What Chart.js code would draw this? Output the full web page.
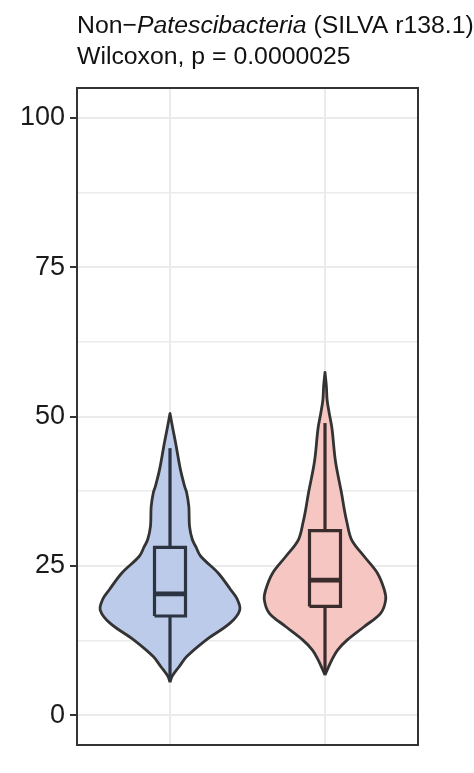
<!DOCTYPE html>
<html>
<head>
<meta charset="utf-8">
<script src="https://cdn.jsdelivr.net/npm/chart.js@4.4.1/dist/chart.umd.min.js"></script>
<style>
  body { margin: 0; background: #fff; }
  #wrap { width: 474px; height: 773px; }
</style>
</head>
<body>
<div id="wrap"><canvas id="myChart"></canvas></div>
<script>
// two groups, no x labels in the figure
const groupPos = [1, 2];

// violin outlines: value (y) and relative density (blue max = 1)
const blueValues = [5.5, 6.5, 8.1, 9.8, 12.6, 15.4, 17.6, 19.5, 21.0, 23.8, 26.6, 28.2, 29.4, 31.6, 34.9, 37.2, 38.3, 41.1, 45.6, 48.0, 50.5];
const blueDensity = [0, 0.03, 0.13, 0.24, 0.52, 0.86, 1, 0.96, 0.87, 0.69, 0.44, 0.37, 0.32, 0.28, 0.27, 0.24, 0.21, 0.15, 0.08, 0.04, 0];
const pinkValues = [6.7, 7.0, 9.3, 10.9, 12.6, 14.8, 17.1, 19.3, 21.0, 23.8, 26.6, 29.4, 32.5, 34.2, 37.0, 42.5, 48.0, 50.6, 52.8, 55.0, 57.4];
const pinkDensity = [0, 0.01, 0.10, 0.18, 0.32, 0.56, 0.80, 0.87, 0.85, 0.75, 0.56, 0.38, 0.31, 0.28, 0.24, 0.15, 0.10, 0.06, 0.03, 0.02, 0];

// boxplot: lower whisker, q1, median, q3, upper whisker
const blueBox = [5.8, 16.6, 20.3, 28.1, 44.7];
const pinkBox = [6.9, 18.2, 22.6, 30.9, 48.9];

const yTicks = [0, 25, 50, 75, 100];
const yGrid = [0, 12.5, 25, 37.5, 50, 62.5, 75, 87.5, 100];

const FONT = '"Liberation Sans", Arial, sans-serif';
const violinHalf = 0.45;
const boxHalf = 0.1;

function violin(center, values, density) {
  const pts = [];
  for (let i = 0; i < values.length; i++) pts.push({ x: center + violinHalf * density[i], y: values[i] });
  for (let i = values.length - 1; i >= 0; i--) pts.push({ x: center - violinHalf * density[i], y: values[i] });
  return pts;
}

function boxSets(center, b, color) {
  const l = center - boxHalf, r = center + boxHalf;
  const base = { borderColor: color, pointRadius: 0, fill: false, tension: 0, order: 0, borderCapStyle: 'butt' };
  return [
    Object.assign({}, base, { data: [{ x: center, y: b[0] }, { x: center, y: b[1] }], borderWidth: 3.2 }),
    Object.assign({}, base, { data: [{ x: center, y: b[3] }, { x: center, y: b[4] }], borderWidth: 3.2 }),
    Object.assign({}, base, { data: [{ x: l, y: b[1] }, { x: r, y: b[1] }, { x: r, y: b[3] }, { x: l, y: b[3] }, { x: l, y: b[1] }], borderWidth: 3.2, borderJoinStyle: 'miter' }),
    Object.assign({}, base, { data: [{ x: l, y: b[2] }, { x: r, y: b[2] }], borderWidth: 4.8 })
  ];
}

const titlePlugin = {
  id: 'ggTitle',
  afterDraw(chart) {
    const ctx = chart.ctx;
    const x0 = chart.chartArea.left;
    ctx.save();
    ctx.fillStyle = '#111';
    ctx.textBaseline = 'alphabetic';
    let x = x0;
    [['Non\u2212', ''], ['Patescibacteria', 'italic '], [' (SILVA r138.1)', '']].forEach(p => {
      ctx.font = p[1] + '24.8px ' + FONT;
      ctx.fillText(p[0], x, 33);
      x += ctx.measureText(p[0]).width;
    });
    ctx.font = '24.8px ' + FONT;
    ctx.fillText('Wilcoxon, p = 0.0000025', x0, 64);
    // panel border
    const a = chart.chartArea;
    ctx.strokeStyle = '#333';
    ctx.lineWidth = 2;
    ctx.strokeRect(a.left, a.top, a.right - a.left, a.bottom - a.top);
    ctx.restore();
  }
};

const ctx = document.getElementById('myChart');
const myChart = new Chart(ctx, {
  type: 'line',
  data: {
    datasets: [
      ...boxSets(groupPos[0], blueBox, '#2c3442'),
      ...boxSets(groupPos[1], pinkBox, '#3a2c2c'),
      {
        data: violin(groupPos[0], blueValues, blueDensity),
        backgroundColor: '#BCCBEA', borderColor: '#333333', borderWidth: 2.8,
        fill: 'shape', tension: 0.35, pointRadius: 0, borderJoinStyle: 'round', order: 1
      },
      {
        data: violin(groupPos[1], pinkValues, pinkDensity),
        backgroundColor: '#F6C6C3', borderColor: '#333333', borderWidth: 2.8,
        fill: 'shape', tension: 0.35, pointRadius: 0, borderJoinStyle: 'round', order: 1
      }
    ]
  },
  options: {
    responsive: true,
    maintainAspectRatio: false,
    animation: false,
    layout: { padding: { left: 0, top: 88, right: 56, bottom: 28 } },
    plugins: { legend: { display: false }, tooltip: { enabled: false } },
    scales: {
      x: {
        type: 'linear', min: 0.4, max: 2.6,
        afterBuildTicks: s => { s.ticks = groupPos.map(v => ({ value: v })); },
        afterFit: s => { s.height = 0; },
        ticks: { display: false },
        grid: { color: '#EBEBEB', lineWidth: 2, drawTicks: false },
        border: { display: false }
      },
      y: {
        type: 'linear', min: -5, max: 105,
        afterBuildTicks: s => { s.ticks = yGrid.map(v => ({ value: v })); },
        afterFit: s => { s.width = 77; },
        ticks: {
          callback: v => (yTicks.includes(v) ? String(v) : ''),
          font: { family: FONT, size: 27 },
          color: '#1a1a1a',
          padding: 5
        },
        grid: {
          color: '#EBEBEB',
          lineWidth: c => (c.tick && yTicks.includes(c.tick.value) ? 2 : 1.4),
          tickLength: 7,
          tickWidth: 2,
          tickColor: c => (c.tick && yTicks.includes(c.tick.value) ? '#333' : 'rgba(0,0,0,0)')
        },
        border: { display: false }
      }
    }
  },
  plugins: [titlePlugin]
});
</script>
</body>
</html>
